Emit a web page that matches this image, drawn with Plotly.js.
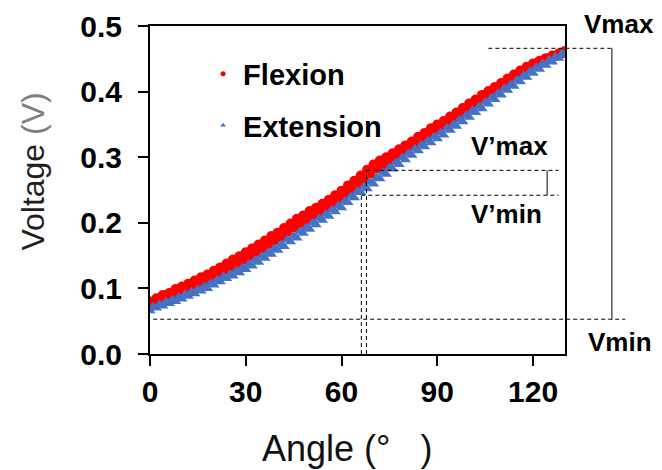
<!DOCTYPE html>
<html>
<head>
<meta charset="utf-8">
<script src="https://cdn.plot.ly/plotly-3.0.1.min.js"></script>
<style>html,body{margin:0;padding:0;background:#fff;}#chart{width:662px;height:470px;}</style>
</head>
<body>
<div id="chart"></div>
<script>
// Angle (degrees) sample positions, one per degree
const angles = [0,1,2,3,4,5,6,7,8,9,10,11,12,13,14,15,16,17,18,19,20,21,22,23,24,25,26,27,28,29,30,31,32,33,34,35,36,37,38,39,40,41,42,43,44,45,46,47,48,49,50,51,52,53,54,55,56,57,58,59,60,61,62,63,64,65,66,67,68,69,70,71,72,73,74,75,76,77,78,79,80,81,82,83,84,85,86,87,88,89,90,91,92,93,94,95,96,97,98,99,100,101,102,103,104,105,106,107,108,109,110,111,112,113,114,115,116,117,118,119,120,121,122,123,124,125,126,127,128,129,130];
// Flexion voltage (V)
const flexion = [0.080,0.074,0.085,0.081,0.090,0.084,0.093,0.089,0.099,0.094,0.103,0.098,0.107,0.101,0.112,0.107,0.117,0.111,0.121,0.116,0.127,0.121,0.132,0.127,0.138,0.132,0.144,0.137,0.149,0.143,0.155,0.149,0.161,0.155,0.167,0.161,0.173,0.167,0.180,0.173,0.185,0.179,0.192,0.186,0.199,0.193,0.206,0.199,0.211,0.205,0.218,0.211,0.223,0.216,0.229,0.222,0.235,0.228,0.242,0.235,0.249,0.242,0.257,0.250,0.264,0.257,0.272,0.266,0.281,0.275,0.289,0.283,0.295,0.288,0.300,0.294,0.306,0.300,0.312,0.306,0.318,0.312,0.324,0.318,0.331,0.325,0.337,0.331,0.344,0.338,0.350,0.344,0.355,0.350,0.362,0.357,0.368,0.363,0.375,0.370,0.382,0.377,0.388,0.383,0.395,0.390,0.401,0.396,0.407,0.403,0.413,0.410,0.420,0.417,0.426,0.424,0.432,0.430,0.438,0.436,0.443,0.441,0.447,0.445,0.451,0.450,0.455,0.454,0.458,0.458,0.462];
// Extension voltage (V)
const extension = [0.066,0.072,0.070,0.076,0.073,0.080,0.077,0.083,0.080,0.087,0.084,0.091,0.088,0.095,0.092,0.099,0.096,0.103,0.100,0.108,0.105,0.113,0.110,0.118,0.115,0.122,0.119,0.127,0.124,0.132,0.129,0.137,0.134,0.143,0.140,0.149,0.146,0.155,0.152,0.161,0.158,0.167,0.164,0.174,0.171,0.180,0.177,0.187,0.184,0.193,0.190,0.200,0.197,0.207,0.204,0.213,0.210,0.220,0.217,0.226,0.223,0.233,0.231,0.241,0.238,0.248,0.246,0.255,0.252,0.262,0.259,0.269,0.267,0.277,0.274,0.284,0.282,0.292,0.289,0.299,0.296,0.306,0.303,0.313,0.310,0.319,0.316,0.325,0.322,0.331,0.328,0.337,0.334,0.344,0.341,0.350,0.347,0.357,0.354,0.364,0.361,0.371,0.368,0.377,0.374,0.384,0.381,0.391,0.388,0.398,0.395,0.405,0.402,0.411,0.408,0.418,0.415,0.425,0.422,0.431,0.428,0.437,0.434,0.443,0.440,0.448,0.445,0.453,0.451,0.458,0.456];
const seriesNames = ['Flexion','Extension'];
// Reference levels (V) and angles (deg)
const Vmax = 0.466, Vmin = 0.053, VpMax = 0.280, VpMin = 0.242;
const angleA = 66.2, angleB = 67.8;
const xTicks = [0,30,60,90,120];
const yTicks = [0,0.1,0.2,0.3,0.4,0.5];
const yTickText = ['0.0','0.1','0.2','0.3','0.4','0.5'];

const xRange = [0,130], yRange = [0,0.5];
const px = d => (d - xRange[0]) / (xRange[1]-xRange[0]);
const py = v => (v - yRange[0]) / (yRange[1]-yRange[0]);

const FONT = 'Liberation Sans, Arial, sans-serif';
const red = '#FF0000', blue = '#4472C4';

const traces = [
  {x: angles, y: flexion, mode:'markers', type:'scatter', name: seriesNames[0], showlegend:false,
   marker:{color:red, size:10, symbol:'circle'}},
  {x: angles, y: extension, mode:'markers', type:'scatter', name: seriesNames[1], showlegend:false,
   marker:{color:blue, size:10, symbol:'triangle-up'}},
  {x:[null], y:[null], mode:'markers', type:'scatter', name: seriesNames[0], legendgroup:'a',
   marker:{color:red, size:5, symbol:'circle'}},
  {x:[null], y:[null], mode:'markers', type:'scatter', name: seriesNames[1], legendgroup:'b',
   marker:{color:blue, size:5, symbol:'triangle-up'}}
];

const dash = {color:'#000', width:1, dash:'4px,3px'};
const solid = {color:'#000', width:1};
const shapes = [
  {type:'line', xref:'paper', yref:'paper', x0:px(106), x1:1.113, y0:py(Vmax), y1:py(Vmax), line:dash},
  {type:'line', xref:'paper', yref:'paper', x0:1.113, x1:1.113, y0:py(Vmax), y1:py(Vmin), line:solid},
  {type:'line', xref:'paper', yref:'paper', x0:px(1), x1:1.145, y0:py(Vmin), y1:py(Vmin), line:dash},
  {type:'line', xref:'paper', yref:'paper', x0:px(angleB), x1:px(128), y0:py(VpMax), y1:py(VpMax), line:dash},
  {type:'line', xref:'paper', yref:'paper', x0:px(angleA), x1:px(128), y0:py(VpMin), y1:py(VpMin), line:dash},
  {type:'line', xref:'paper', yref:'paper', x0:px(124.4), x1:px(124.4), y0:py(VpMax), y1:py(VpMin), line:solid},
  {type:'line', xref:'paper', yref:'paper', x0:px(angleA), x1:px(angleA), y0:0, y1:py(VpMin), line:dash},
  {type:'line', xref:'paper', yref:'paper', x0:px(angleB), x1:px(angleB), y0:0, y1:py(VpMax), line:dash}
];

const annFont = {family:FONT, size:26, color:'#000', weight:'bold'};
const A = (text, x, y, extra) => Object.assign({text, xref:'paper', yref:'paper', x, y,
  xanchor:'center', yanchor:'middle', showarrow:false, font:annFont}, extra || {});
const annotations = [
  A('<b>Vmax</b>', 1.130, 1.006),
  A('<b>V’max</b>', 0.867, 0.634),
  A('<b>V’min</b>', 0.860, 0.427),
  A('<b>Vmin</b>', 1.133, 0.037),
  A('Voltage <span style="color:#7f7f7f">(V)</span>', -0.282, 0.556,
    {textangle:-90, font:{family:FONT, size:32, color:'#1f1f1f'}}),
  A('Angle (°\u00a0\u00a0\u00a0)', 0.475, -0.287, {font:{family:FONT, size:36, color:'#111'}})
];

const axisCommon = {
  showline:true, linecolor:'#000', linewidth:2, mirror:true,
  ticks:'outside', ticklen:10, tickwidth:2, tickcolor:'#000',
  showgrid:false, zeroline:false,
  tickfont:{family:FONT, size:30, color:'#000', weight:'bold'}
};

const layout = {
  width:662, height:470,
  margin:{l:150, r:97, t:26, b:116},
  paper_bgcolor:'#fff', plot_bgcolor:'#fff',
  xaxis: Object.assign({}, axisCommon, {range:xRange, tickvals:xTicks, ticktext:xTicks.map(String)}),
  yaxis: Object.assign({}, axisCommon, {range:yRange, tickvals:yTicks, ticktext:yTickText, ticklabelstandoff:10}),
  showlegend:true,
  legend:{x:0.128, y:0.932, xanchor:'left', yanchor:'top', bgcolor:'rgba(0,0,0,0)',
          font:{family:FONT, size:29, color:'#000', weight:'bold'}, tracegroupgap:11},
  shapes: shapes,
  annotations: annotations
};

Plotly.newPlot('chart', traces, layout, {staticPlot:true, displayModeBar:false});
</script>
</body>
</html>
